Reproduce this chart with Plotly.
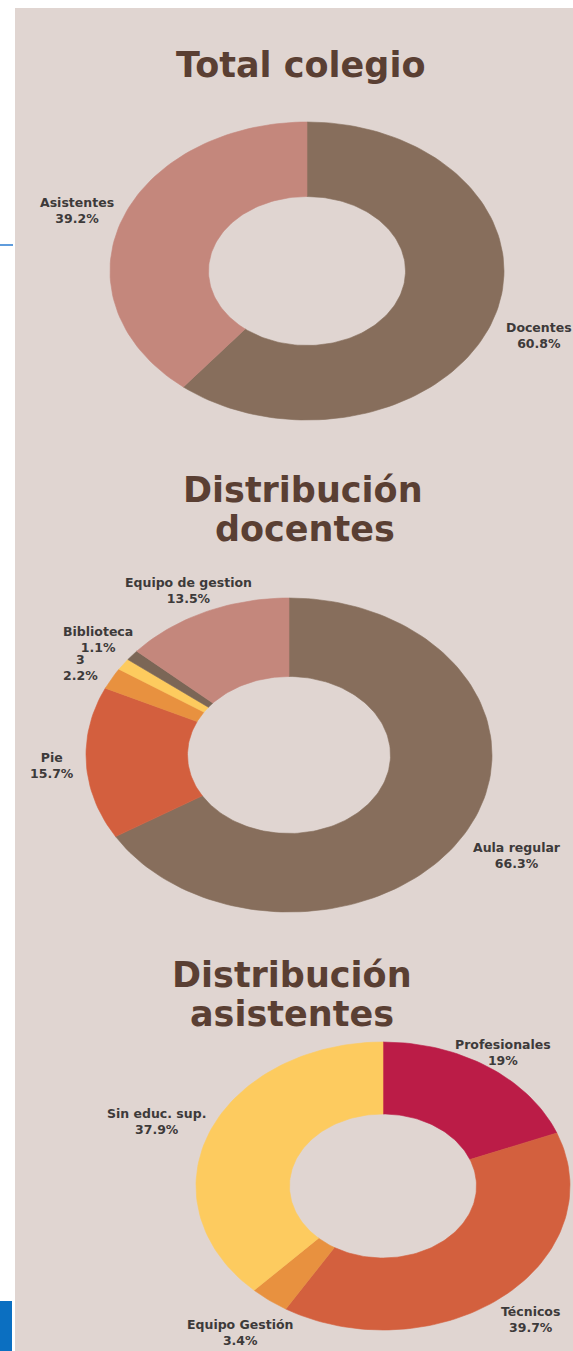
import numpy as np
import plotly.graph_objects as go

W, H = 573, 1351

# ---------------- data ----------------
titles = ["Total colegio", "Distribución docentes", "Distribución asistentes"]

total_labels = ["Docentes", "Asistentes"]
total_values = [60.8, 39.2]

doc_labels = ["Aula regular", "Pie", "3", "", "Biblioteca", "Equipo de gestion"]
doc_values = [66.3, 15.7, 2.2, 1.2, 1.1, 13.5]

asis_labels = ["Profesionales", "Técnicos", "Equipo Gestión", "Sin educ. sup."]
asis_values = [19, 39.7, 3.4, 37.9]

# ---------------- styles / layout ----------------
BG = "#e0d5d1"
TITLE_C = "#5a3f33"
LABEL_C = "#3d3a3a"

total_colors = ["#876e5c", "#c4877c"]
doc_colors = ["#876e5c", "#d35f3e", "#e8913f", "#fdcb5e", "#7b6656", "#c4877c"]
asis_colors = ["#bb1c47", "#d3603e", "#e8913f", "#fdcb5f"]

# donut geometry: centre x, centre y, radius x, radius y, hole fraction
geo_total = (307, 271, 197, 149, 0.5)
geo_doc = (289, 755, 203, 157, 0.5)
geo_asis = (383, 1186, 187, 144, 0.5)

# label anchor positions (centre of text block)
pos_total = [(539, 335), (77, 210)]
pos_doc = [(517, 855), (52, 765), (80, 667), None, (98, 639), (188, 590)]
pos_asis = [(503, 1052), (530, 1319), (240, 1332), (156, 1121)]

fig = go.Figure()


def add_donut(values, colors, geo, names):
    cx, cy, rx, ry, hole = geo
    tot = float(sum(values))
    cum = 0.0
    for v, c, nm in zip(values, colors, names):
        t0 = 2 * np.pi * cum / tot
        cum += v
        t1 = 2 * np.pi * cum / tot
        n = max(8, int(200 * v / tot) + 4)
        th = np.linspace(t0, t1, n)
        xo = cx + rx * np.sin(th)
        yo = cy - ry * np.cos(th)
        thr = th[::-1]
        xi = cx + rx * hole * np.sin(thr)
        yi = cy - ry * hole * np.cos(thr)
        xs = np.concatenate([xo, xi, xo[:1]])
        ys = np.concatenate([yo, yi, yo[:1]])
        fig.add_trace(go.Scatter(
            x=xs, y=ys, mode="lines", fill="toself", fillcolor=c,
            line=dict(color=c, width=0.6), hoverinfo="skip",
            showlegend=False, name=nm or "otro"))


def add_labels(labels, values, positions):
    for lab, v, p in zip(labels, values, positions):
        if not lab or p is None:
            continue
        fig.add_annotation(
            x=p[0], y=p[1], xref="x", yref="y",
            text=f"{lab}<br>{v:g}%", showarrow=False,
            xanchor="center", yanchor="middle", align="center",
            font=dict(family="DejaVu Sans", size=12.5, color=LABEL_C, weight="bold"))


add_donut(total_values, total_colors, geo_total, total_labels)
add_donut(doc_values, doc_colors, geo_doc, doc_labels)
add_donut(asis_values, asis_colors, geo_asis, asis_labels)

add_labels(total_labels, total_values, pos_total)
add_labels(doc_labels, doc_values, pos_doc)
add_labels(asis_labels, asis_values, pos_asis)

# titles (each line placed separately)
title_lines = [
    (titles[0], 300, 65),
    (titles[1].split(" ")[0], 303, 490),
    (titles[1].split(" ")[1], 305, 529),
    (titles[2].split(" ")[0], 292, 975),
    (titles[2].split(" ")[1], 292, 1014),
]
for txt, x, y in title_lines:
    fig.add_annotation(
        x=x, y=y, xref="x", yref="y", text=txt, showarrow=False,
        xanchor="center", yanchor="middle",
        font=dict(family="DejaVu Sans", size=35, color=TITLE_C, weight="bold"))

shapes = [
    dict(type="rect", xref="x", yref="y", x0=15, x1=W, y0=8, y1=H,
         fillcolor=BG, line=dict(width=0), layer="below"),
    dict(type="line", xref="x", yref="y", x0=0, x1=13, y0=245, y1=245,
         line=dict(color="#2a7bd0", width=1.5)),
    dict(type="rect", xref="x", yref="y", x0=0, x1=12, y0=1301, y1=H,
         fillcolor="#0b6fc1", line=dict(width=0)),
]

fig.update_layout(
    width=W, height=H,
    margin=dict(l=0, r=0, t=0, b=0),
    paper_bgcolor="white", plot_bgcolor="white",
    shapes=shapes,
    xaxis=dict(range=[0, W], visible=False, fixedrange=True),
    yaxis=dict(range=[H, 0], visible=False, fixedrange=True),
    showlegend=False,
)

fig.write_html("out.html", config={"displayModeBar": False},
               post_script="document.body.style.margin='0';document.body.style.overflow='hidden';")
